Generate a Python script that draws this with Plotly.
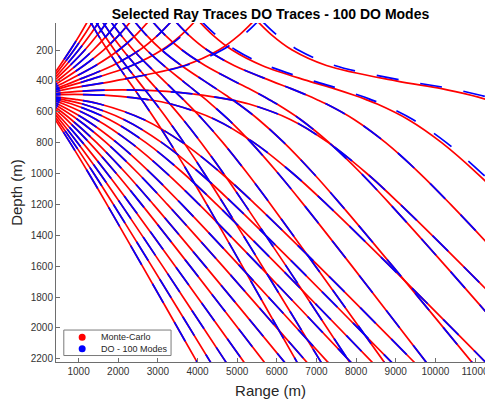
import plotly.graph_objects as go

# ---------------- data (range m, depth m), read/estimated from the figure ----------------
TITLE = "Selected Ray Traces DO Traces - 100 DO Modes"
X_TICKS = [1000, 2000, 3000, 4000, 5000, 6000, 7000, 8000, 9000, 10000, 11000]
Y_TICKS = [200, 400, 600, 800, 1000, 1200, 1400, 1600, 1800, 2000, 2200]
LEGEND_NAMES = ["Monte-Carlo", "DO - 100 Modes"]

# depth samples shared by the ray lists below
Z_LO = [495, 550, 650, 800, 1000, 1200, 1600, 2220, 2400]
Z_LO_B = [495, 520, 550, 650, 800, 1000, 1200, 1600, 2220, 2400]
Z_UP = [495, 450, 400, 300, 200, 100, 0]
Z_DN = [0, 100, 200, 300, 400, 450, 495, 550, 650, 800, 1000, 1200, 1600, 2220, 2400]
Z_DN_B = [0, 100, 200, 300, 400, 450, 495, 520, 550, 650, 800, 1000, 1200, 1600, 2220]
Z_T035 = [495, 485, 475, 465, 458, 465, 475, 485, 495, 520, 550, 650, 800, 1000, 1200, 1600, 2220]
Z_T015 = [495, 492, 490, 488, 490, 492, 495, 520, 550, 650, 800, 1000, 1200, 1600, 2220]

# downward-launched rays (ranges at the depths above)
D37 = [0, 148, 410, 784, 1258, 1714, 2610, 3986, 4384]
D33 = [0, 165, 456, 868, 1384, 1878, 2844, 4324, 4752]
D29 = [0, 188, 516, 973, 1538, 2074, 3119, 4714, 5176]
D25 = [0, 217, 591, 1102, 1723, 2307, 3438, 5166, 5664]
D21 = [0, 258, 693, 1269, 1953, 2589, 3813, 5677, 6215]
D175 = [0, 307, 811, 1455, 2201, 2885, 4195, 6187, 6760]
D14 = [0, 176, 379, 974, 1696, 2507, 3239, 4636, 6748, 7356]
D11 = [0, 221, 472, 1168, 1964, 2831, 3603, 5069, 7280, 7916]
D08 = [0, 297, 622, 1444, 2314, 3232, 4040, 5565, 7859, 8519]
D055 = [0, 412, 829, 1773, 2699, 3651, 4482, 6045, 8397, 9072]
D035 = [0, 582, 1100, 2140, 3100, 4072, 4916, 6500, 8885, 9569]
D015 = [0, 912, 1532, 2642, 3624, 4608, 5460, 7057, 9458, 10147]

# upward-launched rays, surface-reflected: up branch / down branch
U37_UP = [0, 122, 259, 530, 791, 1034, 1260]
U37_DN = [1260, 1486, 1729, 1990, 2261, 2398, 2520, 2668, 2930, 3304, 3778, 4234, 5130, 6506, 6904]
U33_UP = [0, 137, 290, 594, 884, 1150, 1394]
U33_DN = [1394, 1638, 1904, 2194, 2498, 2651, 2788, 2953, 3244, 3656, 4172, 4666, 5632, 7112, 7540]
U29_UP = [0, 156, 331, 677, 1002, 1295, 1559]
U29_DN = [1559, 1823, 2116, 2441, 2787, 2962, 3118, 3306, 3634, 4091, 4656, 5192, 6237, 7832, 8294]
U25_UP = [0, 181, 384, 786, 1157, 1482, 1769]
U25_DN = [1769, 2056, 2381, 2752, 3154, 3357, 3538, 3755, 4129, 4640, 5261, 5845, 6976, 8704, 9202]
U21_UP = [0, 216, 461, 940, 1369, 1731, 2042]
U21_DN = [2042, 2353, 2715, 3144, 3623, 3868, 4084, 4342, 4777, 5353, 6037, 6673, 7897, 9761, 10299]
U175_UP = [0, 260, 557, 1134, 1630, 2029, 2363]
U175_DN = [2363, 2697, 3096, 3592, 4169, 4466, 4726, 5033, 5537, 6181, 6927, 7611, 8921, 10913, 11486]
U14_UP = [0, 328, 708, 1433, 2015, 2455, 2812]
U14_DN = [2812, 3169, 3609, 4191, 4916, 5296, 5624, 5800, 6003, 6598, 7320, 8131, 8863, 10260, 12372]
U11_UP = [0, 422, 927, 1861, 2539, 3016, 3391]
U11_DN = [3391, 3766, 4243, 4921, 5855, 6360, 6782, 7003, 7254, 7950, 8746, 9613, 10385, 11851, 14062]
U09_UP = [0, 526, 1181, 2345, 3099, 3600, 3986]
U09_DN = [3986, 4372, 4873, 5627, 6791, 7446, 7972, 8239, 8535, 9312, 10158, 11059, 11856, 13362, 15631]
U065_UP = [0, 768, 1915, 3671, 4536, 5064, 5462]
U065_DN = [5462, 5860, 6388, 7253, 9009, 10156, 10924, 11282, 11657, 12551, 13456, 14395, 15218, 16767, 19098]

# shallow upward-launched rays that turn below the sound-speed maximum
T035 = [0, 308, 682, 1200, 2100, 3000, 3518, 3892, 4200, 4782, 5300, 6340, 7300, 8272, 9116, 10700, 13085]
T015 = [0, 229, 442, 900, 1358, 1571, 1800, 2712, 3332, 4442, 5424, 6408, 7260, 8857, 11258]

# DO traces that visibly depart from the Monte-Carlo traces
DO_U09_UP = [0, 526, 1181, 2345, 3130, 3640, 4046]
DO_U09_DN = [4046, 4452, 4962, 5747, 6911, 7566, 8092, 8359, 8655, 9432, 10278, 11179, 11976, 13482, 15751]
DO_U065_UP = [0, 768, 1915, 3700, 4620, 5170, 5580]
DO_U065_DN = [5580, 5990, 6540, 7460, 9245, 10392, 11160, 11518, 11893, 12787, 13692, 14631, 15454, 17003, 19334]

# ---------------- assemble ----------------
common = [
    (D37, Z_LO), (D33, Z_LO), (D29, Z_LO), (D25, Z_LO), (D21, Z_LO), (D175, Z_LO),
    (D14, Z_LO_B), (D11, Z_LO_B), (D08, Z_LO_B), (D055, Z_LO_B), (D035, Z_LO_B), (D015, Z_LO_B),
    (U37_UP, Z_UP), (U37_DN, Z_DN), (U33_UP, Z_UP), (U33_DN, Z_DN),
    (U29_UP, Z_UP), (U29_DN, Z_DN), (U25_UP, Z_UP), (U25_DN, Z_DN),
    (U21_UP, Z_UP), (U21_DN, Z_DN), (U175_UP, Z_UP), (U175_DN, Z_DN),
    (U14_UP, Z_UP), (U14_DN, Z_DN_B), (U11_UP, Z_UP), (U11_DN, Z_DN_B),
    (T035, Z_T035), (T015, Z_T015),
]
mc_only = [(U09_UP, Z_UP), (U09_DN, Z_DN_B), (U065_UP, Z_UP), (U065_DN, Z_DN_B)]
do_only = [(DO_U09_UP, Z_UP), (DO_U09_DN, Z_DN_B), (DO_U065_UP, Z_UP), (DO_U065_DN, Z_DN_B)]


def join(segs):
    xs, ys = [], []
    for r, z in segs:
        xs += list(r) + [None]
        ys += list(z) + [None]
    return xs, ys


mc_x, mc_y = join(common + mc_only)
do_x, do_y = join(common + do_only)

FONT = "Liberation Sans, Arial, Helvetica, sans-serif"

fig = go.Figure()
fig.add_trace(go.Scatter(x=mc_x, y=mc_y, mode="lines", name=LEGEND_NAMES[0],
                         line=dict(color="#ff0000", width=1.7, shape="spline", smoothing=1),
                         connectgaps=False, showlegend=False, hoverinfo="skip"))
fig.add_trace(go.Scatter(x=do_x, y=do_y, mode="lines", name=LEGEND_NAMES[1],
                         line=dict(color="#0000ff", width=1.7, shape="spline", smoothing=1,
                                   dash="22px,22px"),
                         connectgaps=False, showlegend=False, hoverinfo="skip"))

axis_common = dict(showgrid=False, zeroline=False, showline=True, linecolor="#6e6e6e",
                   linewidth=1, ticks="inside", ticklen=4, tickcolor="#6e6e6e",
                   tickfont=dict(family=FONT, size=10, color="#333333"), mirror=False,
                   automargin=False, ticklabeloverflow="allow")

fig.update_layout(
    width=485, height=402,
    margin=dict(l=56, r=0, t=23, b=40, autoexpand=False),
    paper_bgcolor="white", plot_bgcolor="white",
    title=dict(text="<b>" + TITLE + "</b>", x=0.5, xref="paper", xanchor="center",
               y=1 - 14 / 402, yref="container", yanchor="middle", automargin=False,
               font=dict(family=FONT, size=14, color="#000000")),
    xaxis=dict(range=[430, 11252], tickvals=X_TICKS, ticktext=[str(v) for v in X_TICKS],
               title=dict(text="Range (m)", font=dict(family=FONT, size=15, color="#262626"),
                          standoff=9),
               **axis_common),
    yaxis=dict(range=[2221, 25], tickvals=Y_TICKS, ticktext=[str(v) for v in Y_TICKS],
               title=dict(text="Depth (m)", font=dict(family=FONT, size=15, color="#262626"),
                          standoff=4),
               **axis_common),
    showlegend=False,
)

# legend box drawn as in the reference (compact box, circle markers)
lx0, lx1, ly0, ly1 = 0.0182, 0.2682, 0.0191, 0.0943
fig.add_shape(type="rect", xref="paper", yref="paper", x0=lx0, x1=lx1, y0=ly0, y1=ly1,
              line=dict(color="#7a7a7a", width=1), fillcolor="white", layer="above")
for name, col, yy in [(LEGEND_NAMES[0], "#ff0000", 0.0730), (LEGEND_NAMES[1], "#0000ff", 0.0389)]:
    fig.add_shape(type="circle", xref="paper", yref="paper", xsizemode="pixel", ysizemode="pixel",
                  xanchor=0.0610, yanchor=yy, x0=-3.5, x1=3.5, y0=-3.5, y1=3.5,
                  fillcolor=col, line=dict(color=col, width=0), layer="above")
    fig.add_annotation(text=name, xref="paper", yref="paper", x=0.1013, y=yy,
                       xanchor="left", yanchor="middle", showarrow=False,
                       font=dict(family=FONT, size=9, color="#262626"))

fig.write_html("out.html", config={"displayModeBar": False},
               post_script="document.body.style.margin='0px';")
